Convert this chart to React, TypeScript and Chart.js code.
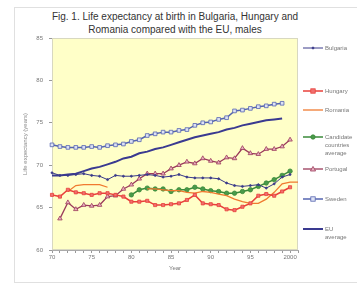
import React, { useEffect, useRef } from "react";
import { Chart, registerables } from "chart.js";

Chart.register(...registerables);

const years: string[] = [];
for (let y = 1970; y <= 2001; y++) years.push(String(y));

const yTicks = [60, 65, 70, 75, 80, 85];

const bulgaria = [69.1, 68.8, 68.8, 68.9, 69.0, 68.8, 68.7, 68.3, 68.8, 68.7, 68.7, 68.8, 68.9, 68.8, 68.6, 68.7, 68.9, 68.6, 68.5, 68.5, 68.5, 68.4, 67.9, 67.6, 67.5, 67.6, 67.7, 67.3, 67.8, 68.6, 68.9, null];
const hungary = [66.5, 66.3, 67.1, 66.8, 66.7, 66.5, 66.7, 66.7, 66.5, 66.3, 65.7, 65.7, 65.8, 65.3, 65.3, 65.4, 65.5, 65.9, 66.5, 65.5, 65.4, 65.3, 64.8, 64.7, 65.1, 65.5, 66.4, 66.6, 66.4, 66.9, 67.4, null];
const romania = [null, null, 66.9, 67.6, 67.7, 67.7, 67.7, 67.4, null, null, null, null, 67.2, 67.2, 67.1, 67.0, 67.0, 66.8, 66.7, 66.9, 66.8, 66.6, 66.4, 66.0, 65.7, 65.5, 65.5, 66.0, 66.8, 67.8, 68.0, 68.0];
const candidates = [null, null, null, null, null, null, null, null, null, null, 66.5, 67.1, 67.3, 67.2, 67.2, 66.9, 67.1, 67.1, 67.4, 67.2, 67.0, 66.9, 66.7, 66.7, 66.9, 67.1, 67.5, 67.9, 68.3, 68.8, 69.3, null];
const portugal = [null, 63.7, 65.6, 64.8, 65.3, 65.2, 65.3, 66.3, 66.4, 67.2, 67.7, 68.4, 69.0, 69.0, 69.0, 69.6, 70.0, 70.4, 70.2, 70.8, 70.5, 70.3, 70.9, 70.8, 72.0, 71.4, 71.3, 71.9, 71.9, 72.2, 73.0, null];
const sweden = [72.4, 72.2, 72.1, 72.1, 72.1, 72.2, 72.1, 72.3, 72.4, 72.5, 72.8, 73.0, 73.5, 73.7, 73.9, 73.9, 74.1, 74.2, 74.7, 75.0, 75.1, 75.4, 75.6, 76.4, 76.5, 76.7, 76.9, 77.0, 77.2, 77.3, null, null];
const euAverage = [68.8, 68.8, 68.9, 69.0, 69.3, 69.6, 69.8, 70.1, 70.4, 70.8, 71.0, 71.4, 71.6, 71.9, 72.1, 72.4, 72.7, 73.0, 73.3, 73.5, 73.7, 73.9, 74.2, 74.4, 74.7, 74.9, 75.1, 75.3, 75.4, 75.5, null, null];

type Series = {
  label: string[];
  data: (number | null)[];
  color: string;
  fill: string;
  width: number;
  style: string | false;
  radius: number;
  legendY: number;
};

const series: Series[] = [
  { label: ["Bulgaria"], data: bulgaria, color: "#3a3a8a", fill: "#3a3a8a", width: 1, style: "circle", radius: 1, legendY: 48 },
  { label: ["Hungary"], data: hungary, color: "#e8403a", fill: "#f07070", width: 1.5, style: "rect", radius: 2.2, legendY: 91 },
  { label: ["Romania"], data: romania, color: "#f07a30", fill: "#f07a30", width: 1.3, style: false, radius: 0, legendY: 110 },
  { label: ["Candidate", "countries", "average"], data: candidates, color: "#3a8a3a", fill: "#4a9a4a", width: 1.5, style: "circle", radius: 2.2, legendY: 137 },
  { label: ["Portugal"], data: portugal, color: "#9a3a5a", fill: "#e8b0c0", width: 1.3, style: "triangle", radius: 2.6, legendY: 169 },
  { label: ["Sweden"], data: sweden, color: "#5564b0", fill: "#dde2f4", width: 1.5, style: "rect", radius: 2.6, legendY: 199 },
  { label: ["EU", "average"], data: euAverage, color: "#3a3a90", fill: "#3a3a90", width: 2, style: false, radius: 0, legendY: 229 },
];

const plotBg = {
  id: "plotBg",
  beforeDatasetsDraw(chart: any) {
    const { ctx, chartArea: a } = chart;
    ctx.save();
    ctx.fillStyle = "#ffffc8";
    ctx.fillRect(a.left, a.top, a.right - a.left, a.bottom - a.top);
    ctx.strokeStyle = "#d8d8c0";
    ctx.lineWidth = 1;
    ctx.strokeRect(a.left + 0.5, a.top + 0.5, a.right - a.left - 1, a.bottom - a.top - 1);
    ctx.restore();
  },
};

function LegendMark({ s }: { s: Series }) {
  const cx = 10;
  const cy = 4;
  let marker: React.ReactNode = null;
  if (s.style === "rect") {
    marker = <rect x={cx - 2.2} y={cy - 2.2} width={4.4} height={4.4} fill={s.fill} stroke={s.color} strokeWidth={0.8} />;
  } else if (s.style === "circle") {
    marker = <circle cx={cx} cy={cy} r={s.radius} fill={s.fill} stroke={s.color} strokeWidth={0.8} />;
  } else if (s.style === "triangle") {
    marker = <polygon points={`${cx},${cy - 2.6} ${cx + 2.6},${cy + 2} ${cx - 2.6},${cy + 2}`} fill={s.fill} stroke={s.color} strokeWidth={0.8} />;
  }
  return (
    <svg width={21} height={8} style={{ position: "absolute", left: 0, top: 0 }}>
      <line x1={0} y1={cy} x2={20} y2={cy} stroke={s.color} strokeWidth={s.width} />
      {marker}
    </svg>
  );
}

export default function App() {
  const ref = useRef<HTMLCanvasElement | null>(null);

  useEffect(() => {
    if (!ref.current) return;
    const chart = new Chart(ref.current, {
      type: "line",
      data: {
        labels: years,
        datasets: series.map((s) => ({
          label: s.label.join(" "),
          data: s.data,
          borderColor: s.color,
          backgroundColor: s.fill,
          borderWidth: s.width,
          pointStyle: s.style as any,
          pointRadius: s.radius,
          pointBorderWidth: 0.8,
          pointBorderColor: s.color,
          pointBackgroundColor: s.fill,
          tension: 0,
          spanGaps: false,
          fill: false,
        })),
      },
      options: {
        animation: false,
        responsive: false,
        maintainAspectRatio: false,
        layout: { padding: { left: 18, right: 59, top: 38, bottom: 4 } },
        plugins: { legend: { display: false }, tooltip: { enabled: false }, title: { display: false } },
        scales: {
          x: {
            type: "category",
            offset: false,
            afterFit(scale: any) {
              scale.height = 30;
            },
            grid: { display: true, drawOnChartArea: false, tickLength: 3, color: "#999" },
            border: { color: "#aaa" },
            ticks: {
              autoSkip: false,
              maxRotation: 0,
              padding: 1,
              color: "#777",
              font: { family: "Liberation Sans", size: 6 },
              callback: (_v: any, i: number) => {
                const y = Number(years[i]);
                if (y % 5 !== 0) return "";
                return y === 2000 ? "2000" : String(y % 100);
              },
            },
            title: {
              display: true,
              text: "Year",
              color: "#777",
              font: { family: "Liberation Sans", size: 6 },
              padding: { top: 0, bottom: 8 },
            },
          },
          y: {
            min: 60,
            max: 85,
            afterFit(scale: any) {
              scale.width = 34;
            },
            afterBuildTicks(scale: any) {
              scale.ticks = yTicks.map((v) => ({ value: v }));
            },
            grid: { display: true, drawOnChartArea: false, tickLength: 3, color: "#999" },
            border: { color: "#aaa" },
            ticks: {
              padding: 6,
              color: "#777",
              font: { family: "Liberation Sans", size: 6 },
            },
            title: {
              display: true,
              text: "Life expectancy (years)",
              color: "#888",
              font: { family: "Liberation Sans", size: 6 },
              padding: { top: 4, bottom: 0 },
            },
          },
        },
      },
      plugins: [plotBg],
    });
    return () => chart.destroy();
  }, []);

  return (
    <div style={{ position: "absolute", left: 0, top: 0, width: 357, height: 284, background: "#fff", overflow: "hidden", fontFamily: "Liberation Sans, Arial, sans-serif" }}>
      <div style={{ position: "absolute", left: 14, top: 7, width: 400, height: 274, border: "1px solid #e0e0e0" }} />
      <div style={{ position: "absolute", left: 14, top: 10, width: 322, textAlign: "center", fontSize: 10, lineHeight: "13px", color: "#333" }}>
        Fig. 1. Life expectancy at birth in Bulgaria, Hungary and
        <br />
        Romania compared with the EU, males
      </div>
      <canvas ref={ref} width={357} height={284} style={{ position: "absolute", left: 0, top: 0, width: 357, height: 284 }} />
      {series.map((s, i) => (
        <div key={i} style={{ position: "absolute", left: 303, top: s.legendY - 4 }}>
          <LegendMark s={s} />
          <div style={{ position: "absolute", left: 22, top: 0, fontSize: 6, lineHeight: "8px", color: "#777", whiteSpace: "nowrap" }}>
            {s.label.map((l, j) => (
              <div key={j}>{l}</div>
            ))}
          </div>
        </div>
      ))}
    </div>
  );
}
